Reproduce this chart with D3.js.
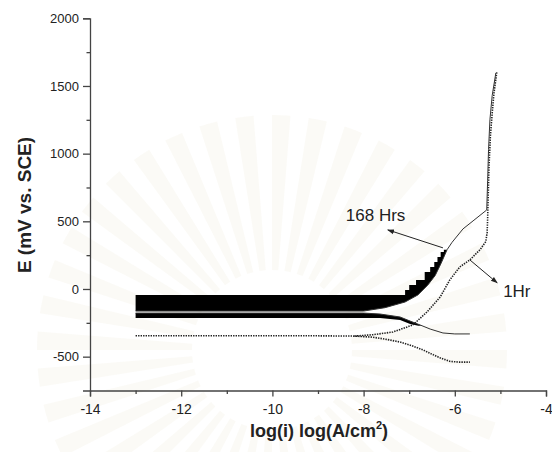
<!DOCTYPE html>
<html>
<head>
<meta charset="utf-8">
<script src="https://cdn.jsdelivr.net/npm/d3@7"></script>
<style>
  body { margin: 0; background: #fff; }
  svg { display: block; }
  text { font-family: "Liberation Sans", Arial, Helvetica, sans-serif; fill: #222; }
</style>
</head>
<body>
<svg id="chart" width="552" height="452"></svg>
<script>
// ---- axis ticks ----
const xMajorTicks = [-14, -12, -10, -8, -6, -4];
const xMinorTicks = [-13, -11, -9, -7, -5];
const yMajorTicks = [2000, 1500, 1000, 500, 0, -500];
const yMinorTicks = [1750, 1250, 750, 250, -250];

// ---- 1 Hr curve (dotted) ----
const hr1CathodicLogI = [-13.0, -9.0, -8.2, -7.8, -7.5, -7.2, -6.95, -6.7, -6.5, -6.3, -6.1, -5.9, -5.67];
const hr1CathodicE    = [-345, -346, -348, -356, -372, -392, -418, -450, -482, -512, -535, -540, -540];
const hr1AnodicLogI = [-8.2, -7.8, -7.36, -6.92, -6.61, -6.32, -6.11, -5.89, -5.67, -5.45, -5.32, -5.29, -5.28, -5.27, -5.25, -5.22, -5.18, -5.14, -5.08];
const hr1AnodicE    = [-348, -338, -318, -266, -170, -59, 67, 163, 215, 289, 350, 420, 520, 650, 900, 1130, 1300, 1450, 1600];

// ---- 168 Hrs curve (solid) ----
const hr168AnodicLogI = [-13.0, -8.0, -7.53, -7.09, -6.81, -6.59, -6.43, -6.30, -6.17, -6.06, -5.82, -5.6, -5.3, -5.28, -5.26, -5.23, -5.18, -5.1];
const hr168AnodicE    = [-163, -163, -138, -96, -44, 30, 100, 190, 290, 345, 444, 503, 584, 800, 1030, 1250, 1430, 1596];
const hr168CathodicLogI = [-13.0, -8.0, -7.64, -7.2, -6.98, -6.76, -6.54, -6.26, -6.0, -5.67];
const hr168CathodicE    = [-178, -178, -185, -207, -237, -266, -296, -325, -332, -332];

// dense, noisy part of the 168 Hrs scan: outer edges of the filled envelopes
const hr168UpperEdgeLogI = [-13.0, -7.09, -7.00, -6.85, -6.66, -6.54, -6.45, -6.38, -6.31, -6.24, -6.17];
const hr168UpperEdgeE    = [-44, -44, -7, 30, 67, 126, 163, 200, 237, 274, 290];
const hr168LowerEdgeLogI = [-13.0, -7.64, -7.2, -6.98, -6.8, -6.72];
const hr168LowerEdgeE    = [-215, -215, -229, -259, -272, -270];

// ---- annotations ----
const labels = [
  { text: "168 Hrs", logI: -8.39, E: 503 },
  { text: "1Hr", logI: -4.94, E: -58 }
];
const arrows = [
  { from: [-6.26, 304], to: [-7.47, 437] },
  { from: [-5.67, 215], to: [-5.07, 45] }
];

const zip = (xs, ys) => xs.map((v, i) => [v, ys[i]]);

const svg = d3.select("#chart");
const x = d3.scaleLinear().domain([-14, -4]).range([90, 546]);
const y = d3.scaleLinear().domain([-750, 2000]).range([390.5, 18.3]);

const line = d3.line().x(d => x(d[0])).y(d => y(d[1]));

// faint radiating emblem in the page background
const rays = d3.range(0, 360, 9);
const ray = d3.arc().innerRadius(80).outerRadius(235);
svg.append("g").attr("transform", "translate(272,350)")
  .selectAll("path").data(rays).join("path")
  .attr("d", a => ray({ startAngle: a * Math.PI / 180, endAngle: (a + 4.5) * Math.PI / 180 }))
  .attr("fill", "#f5f3ea").attr("opacity", 0.42);

// arrow marker
svg.append("defs").append("marker")
  .attr("id", "arrowhead")
  .attr("viewBox", "0 0 10 10")
  .attr("refX", 9).attr("refY", 5)
  .attr("markerWidth", 7).attr("markerHeight", 7)
  .attr("markerUnits", "userSpaceOnUse")
  .attr("orient", "auto")
  .append("path").attr("d", "M0,1.5 L10,5 L0,8.5 Z").attr("fill", "#222");

const plot = svg.append("g");

// upper filled envelope of the 168 Hrs scan: stepped outer edge, closed along the anodic line
const upperEdge = zip(hr168UpperEdgeLogI, hr168UpperEdgeE);
const anodic168 = zip(hr168AnodicLogI, hr168AnodicE);
const lastLogI = hr168UpperEdgeLogI[hr168UpperEdgeLogI.length - 1];
const anodicBack = anodic168.filter(d => d[0] <= lastLogI + 1e-9).reverse();
const stepPath = d3.line().x(d => x(d[0])).y(d => y(d[1])).curve(d3.curveStepBefore)(upperEdge);
const backPath = line(anodicBack).replace(/^M/, "L");
plot.append("path").attr("d", stepPath + backPath + "Z").attr("fill", "#000");

// lower filled envelope: between the cathodic line and its outer edge
const cathodic168 = zip(hr168CathodicLogI, hr168CathodicE);
const lowerEdge = zip(hr168LowerEdgeLogI, hr168LowerEdgeE);
const lowEnd = hr168LowerEdgeLogI[hr168LowerEdgeLogI.length - 1];
const cathFront = cathodic168.filter(d => d[0] <= lowEnd + 1e-9);
plot.append("path")
  .attr("d", line(cathFront) + line(lowerEdge.slice().reverse()).replace(/^M/, "L") + "Z")
  .attr("fill", "#000");

// 168 Hrs solid branches
plot.append("path").attr("d", line(anodic168))
  .attr("fill", "none").attr("stroke", "#333").attr("stroke-width", 1);
plot.append("path").attr("d", line(cathodic168))
  .attr("fill", "none").attr("stroke", "#333").attr("stroke-width", 1);

// 1 Hr dotted branches
plot.append("path").attr("d", line(zip(hr1CathodicLogI, hr1CathodicE)))
  .attr("fill", "none").attr("stroke", "#222").attr("stroke-width", 1.6)
  .attr("stroke-dasharray", "1.4,1.1");
plot.append("path").attr("d", line(zip(hr1AnodicLogI, hr1AnodicE)))
  .attr("fill", "none").attr("stroke", "#222").attr("stroke-width", 1.6)
  .attr("stroke-dasharray", "1.4,1.1");

// annotation arrows and labels
arrows.forEach(a => {
  plot.append("line")
    .attr("x1", x(a.from[0])).attr("y1", y(a.from[1]))
    .attr("x2", x(a.to[0])).attr("y2", y(a.to[1]))
    .attr("stroke", "#222").attr("stroke-width", 1)
    .attr("marker-end", "url(#arrowhead)");
});
labels.forEach(l => {
  plot.append("text").attr("x", x(l.logI)).attr("y", y(l.E))
    .attr("font-size", 17).text(l.text);
});

// ---- axes ----
const fmt = d => String(d);
const xAxis = svg.append("g").attr("transform", `translate(0,${y(-750)})`)
  .call(d3.axisBottom(x).tickValues(xMajorTicks).tickSize(6).tickPadding(8).tickFormat(fmt));
svg.append("g").attr("transform", `translate(0,${y(-750)})`)
  .call(d3.axisBottom(x).tickValues(xMinorTicks).tickSize(3.5).tickFormat(""))
  .call(g => g.select(".domain").remove());
const yAxis = svg.append("g").attr("transform", `translate(${x(-14)},0)`)
  .call(d3.axisLeft(y).tickValues(yMajorTicks).tickSize(7).tickPadding(4).tickFormat(fmt));
svg.append("g").attr("transform", `translate(${x(-14)},0)`)
  .call(d3.axisLeft(y).tickValues(yMinorTicks).tickSize(3.5).tickFormat(""))
  .call(g => g.select(".domain").remove());

svg.selectAll(".domain").attr("stroke", "#444").attr("stroke-width", 1.3);
svg.selectAll(".tick line").attr("stroke", "#444").attr("stroke-width", 1.3);
svg.selectAll("g[font-family]").attr("font-family", null);
xAxis.selectAll("text").attr("font-size", 14).attr("fill", "#333");
yAxis.selectAll("text").attr("font-size", 13).attr("fill", "#333");

// axis titles
const xt = svg.append("text").attr("x", 319).attr("y", 437)
  .attr("text-anchor", "middle").attr("font-size", 18).attr("font-weight", "bold");
xt.append("tspan").text("log(i) log(A/cm");
xt.append("tspan").attr("font-size", 11).attr("dy", -8).text("2");
xt.append("tspan").attr("dy", 8).text(")");

svg.append("text")
  .attr("transform", "translate(31,205) rotate(-90)")
  .attr("text-anchor", "middle").attr("font-size", 19).attr("font-weight", "bold")
  .text("E (mV vs. SCE)");
</script>
</body>
</html>
